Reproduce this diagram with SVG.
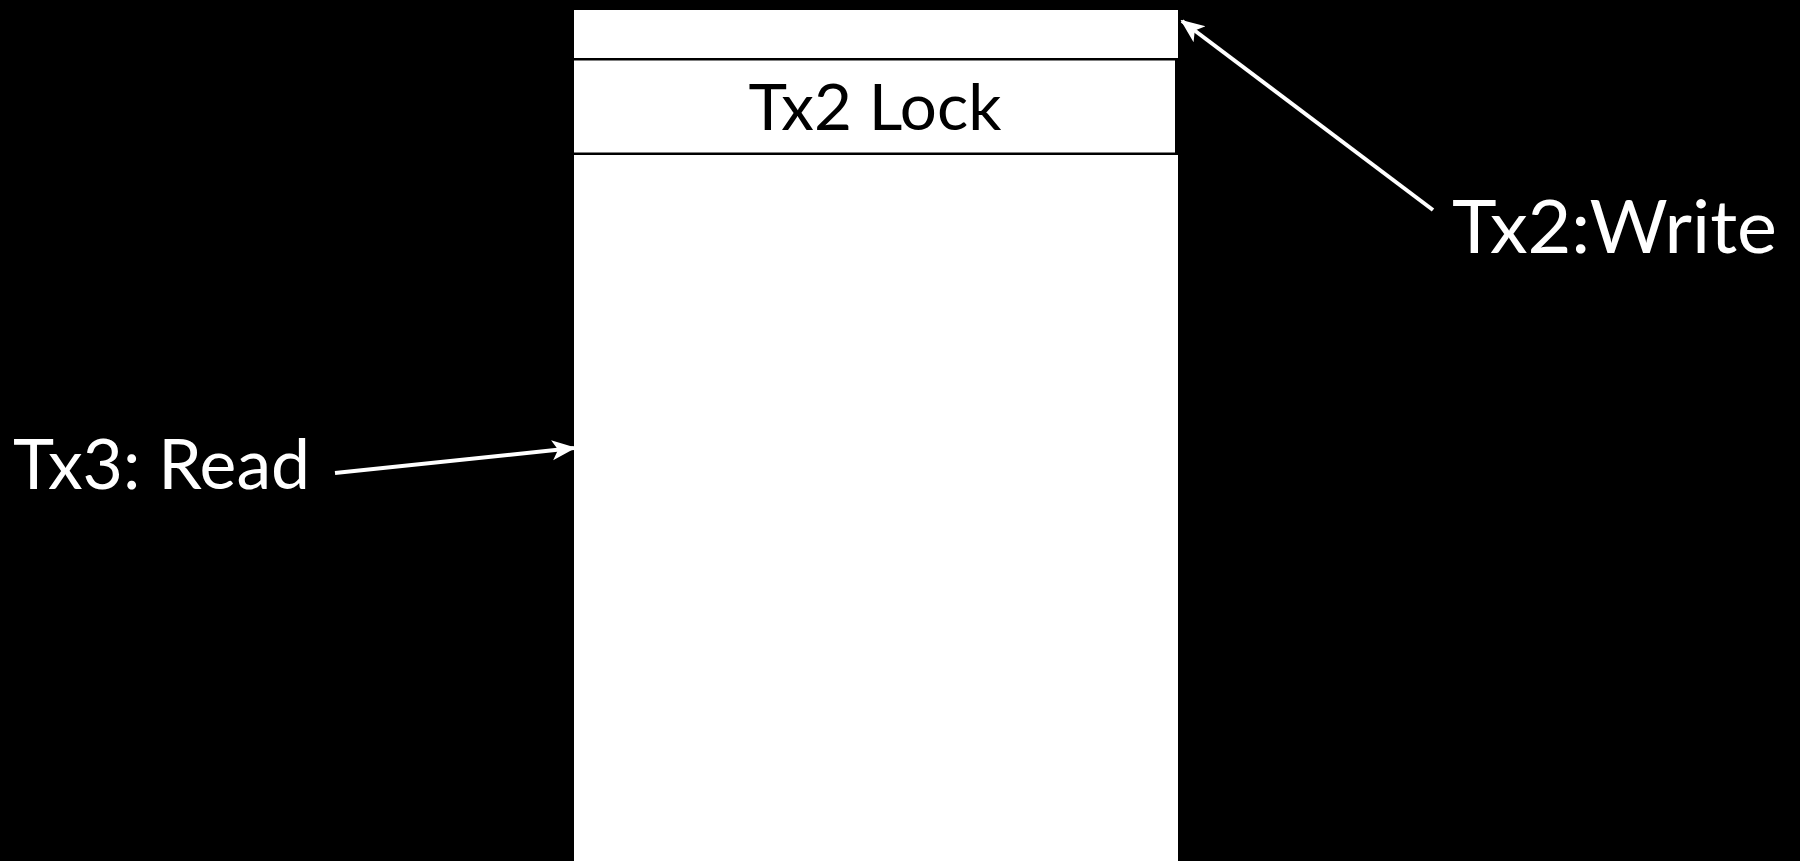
<svg xmlns="http://www.w3.org/2000/svg" width="1800" height="861" viewBox="0 0 1800 861">
  <style>
    .cell { fill: #ffffff; }
    .label { font-family: Lato, "Open Sans", sans-serif; fill: #ffffff; }
    .cellText { font-family: Lato, "Open Sans", sans-serif; fill: #000000; }
    .wire { stroke: #ffffff; stroke-width: 4; fill: none; }
  </style>
  <defs>
    <marker id="head" viewBox="0 0 12 10" refX="11" refY="5" markerWidth="6" markerHeight="6" markerUnits="strokeWidth" orient="auto">
      <path d="M0,0 L12,5 L0,10 L3,5 Z" fill="#ffffff"/>
    </marker>
  </defs>
  <rect width="1800" height="861" fill="#000000"/>

  <g id="record">
    <g id="slot-top">
      <rect class="cell" x="574" y="10" width="604" height="48"/>
    </g>
    <g id="slot-lock">
      <rect class="cell" x="574" y="60.5" width="601" height="92"/>
      <text class="cellText" x="875" y="130" font-size="64" text-anchor="middle" textLength="253" lengthAdjust="spacingAndGlyphs">Tx2 Lock</text>
    </g>
    <g id="slot-body">
      <rect class="cell" x="574" y="155" width="604" height="706"/>
    </g>
  </g>

  <g id="label-write">
    <text class="label" x="1452" y="253" font-size="74" textLength="325" lengthAdjust="spacingAndGlyphs">Tx2:Write</text>
  </g>
  <g id="label-read">
    <text class="label" x="13" y="489" font-size="69" textLength="297" lengthAdjust="spacingAndGlyphs">Tx3: Read</text>
  </g>

  <g id="connectors">
    <line class="wire" x1="1433" y1="210" x2="1182" y2="21" marker-end="url(#head)"/>
    <line class="wire" x1="335" y1="473" x2="574" y2="448" marker-end="url(#head)"/>
  </g>
</svg>
